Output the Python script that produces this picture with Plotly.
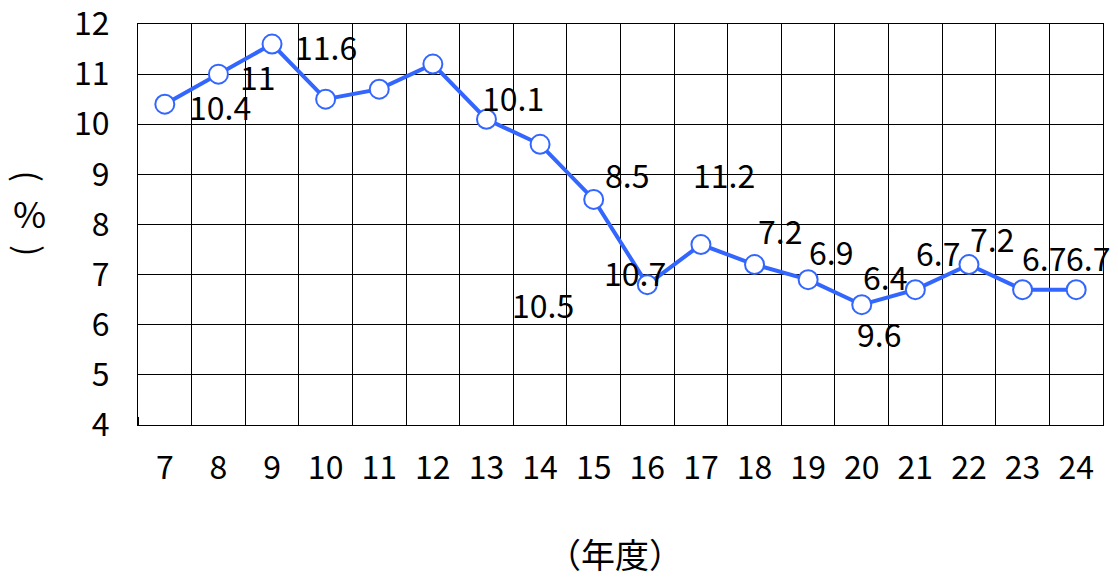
import plotly.graph_objects as go

years = [7, 8, 9, 10, 11, 12, 13, 14, 15, 16, 17, 18, 19, 20, 21, 22, 23, 24]
values = [10.4, 11, 11.6, 10.5, 10.7, 11.2, 10.1, 9.6, 8.5, 6.8, 7.6, 7.2, 6.9, 6.4, 6.7, 7.2, 6.7, 6.7]
value_labels = ["10.4", "11", "11.6", "10.5", "10.7", "11.2", "10.1", "9.6", "8.5", "6.8",
                "7.6", "7.2", "6.9", "6.4", "6.7", "7.2", "6.7", "6.7"]
y_ticks = [4, 5, 6, 7, 8, 9, 10, 11, 12]

# where each data label sits (data coordinates), as drawn in the original
label_x = [8.03, 8.74, 10.0, 14.05, 15.77, 17.43, 13.49, 20.32, 15.62, 23.19,
           24.24, 18.47, 19.43, 20.43, 21.42, 22.43, 23.40, 24.22]
label_y = [10.36, 10.96, 11.56, 6.41, 7.05, 9.0, 10.54, 5.83, 9.0, 1.32,
           1.78, 7.89, 7.47, 6.97, 7.45, 7.73, 7.35, 7.35]

NUMFONT = "Liberation Sans Narrow, Noto Sans CJK JP"
CJK = "Noto Sans CJK JP"
BLUE = "#3366ff"
FS = 32

fig = go.Figure()
fig.add_trace(go.Scatter(
    x=years, y=values, mode="lines+markers",
    line=dict(color=BLUE, width=4),
    marker=dict(symbol="circle", size=19, color="white", line=dict(color=BLUE, width=2)),
    cliponaxis=False, showlegend=False,
))

for t, lx, ly in zip(value_labels, label_x, label_y):
    fig.add_annotation(x=lx, y=ly, xref="x", yref="y", text=t, showarrow=False,
                       xanchor="center", yanchor="middle",
                       font=dict(family=NUMFONT, size=FS, color="black"))

# y-axis title written vertically: ( % ) with the brackets turned
fig.add_annotation(xref="paper", yref="paper", x=-0.112, y=0.62, text="(", textangle=90,
                   showarrow=False, xanchor="center", yanchor="middle",
                   font=dict(family=CJK, size=34, color="black"))
fig.add_annotation(xref="paper", yref="paper", x=-0.112, y=0.531, text="%",
                   showarrow=False, xanchor="center", yanchor="middle", height=34,
                   font=dict(family=CJK, size=36, color="black"))
fig.add_annotation(xref="paper", yref="paper", x=-0.112, y=0.434, text=")", textangle=90,
                   showarrow=False, xanchor="center", yanchor="middle",
                   font=dict(family=CJK, size=34, color="black"))

fig.add_annotation(xref="paper", yref="paper", x=0.494, y=-0.32, text="（年度）",
                   showarrow=False, xanchor="center", yanchor="middle", height=40,
                   font=dict(family=CJK, size=34, color="black"))

fig.update_xaxes(
    range=[6.5, 24.5], tickvals=years, ticktext=[str(y) for y in years],
    showgrid=False, zeroline=False, showline=True, linecolor="black", linewidth=1, mirror=True,
    ticks="", ticklabelstandoff=15, automargin=False,
    tickfont=dict(family=NUMFONT, size=FS, color="black"),
    minor=dict(tick0=6.5, dtick=1, showgrid=True, gridcolor="black", gridwidth=1,
               ticks="inside", ticklen=8, tickcolor="black"),
)
fig.update_yaxes(
    range=[4, 12], tickvals=y_ticks, showgrid=True, gridcolor="black", gridwidth=1,
    zeroline=False, showline=True, linecolor="black", linewidth=1, mirror=True,
    ticks="inside", ticklen=10, tickcolor="black", ticklabelstandoff=21,
    ticklabeloverflow="allow", automargin=False,
    tickfont=dict(family=NUMFONT, size=FS, color="black"),
)
fig.update_layout(
    width=1118, height=579,
    margin=dict(l=138, r=15, t=24, b=154),
    plot_bgcolor="white", paper_bgcolor="white",
    font=dict(family=CJK),
)
fig.write_html("out.html", config={"displayModeBar": False},
               post_script="document.body.style.margin='0';")
